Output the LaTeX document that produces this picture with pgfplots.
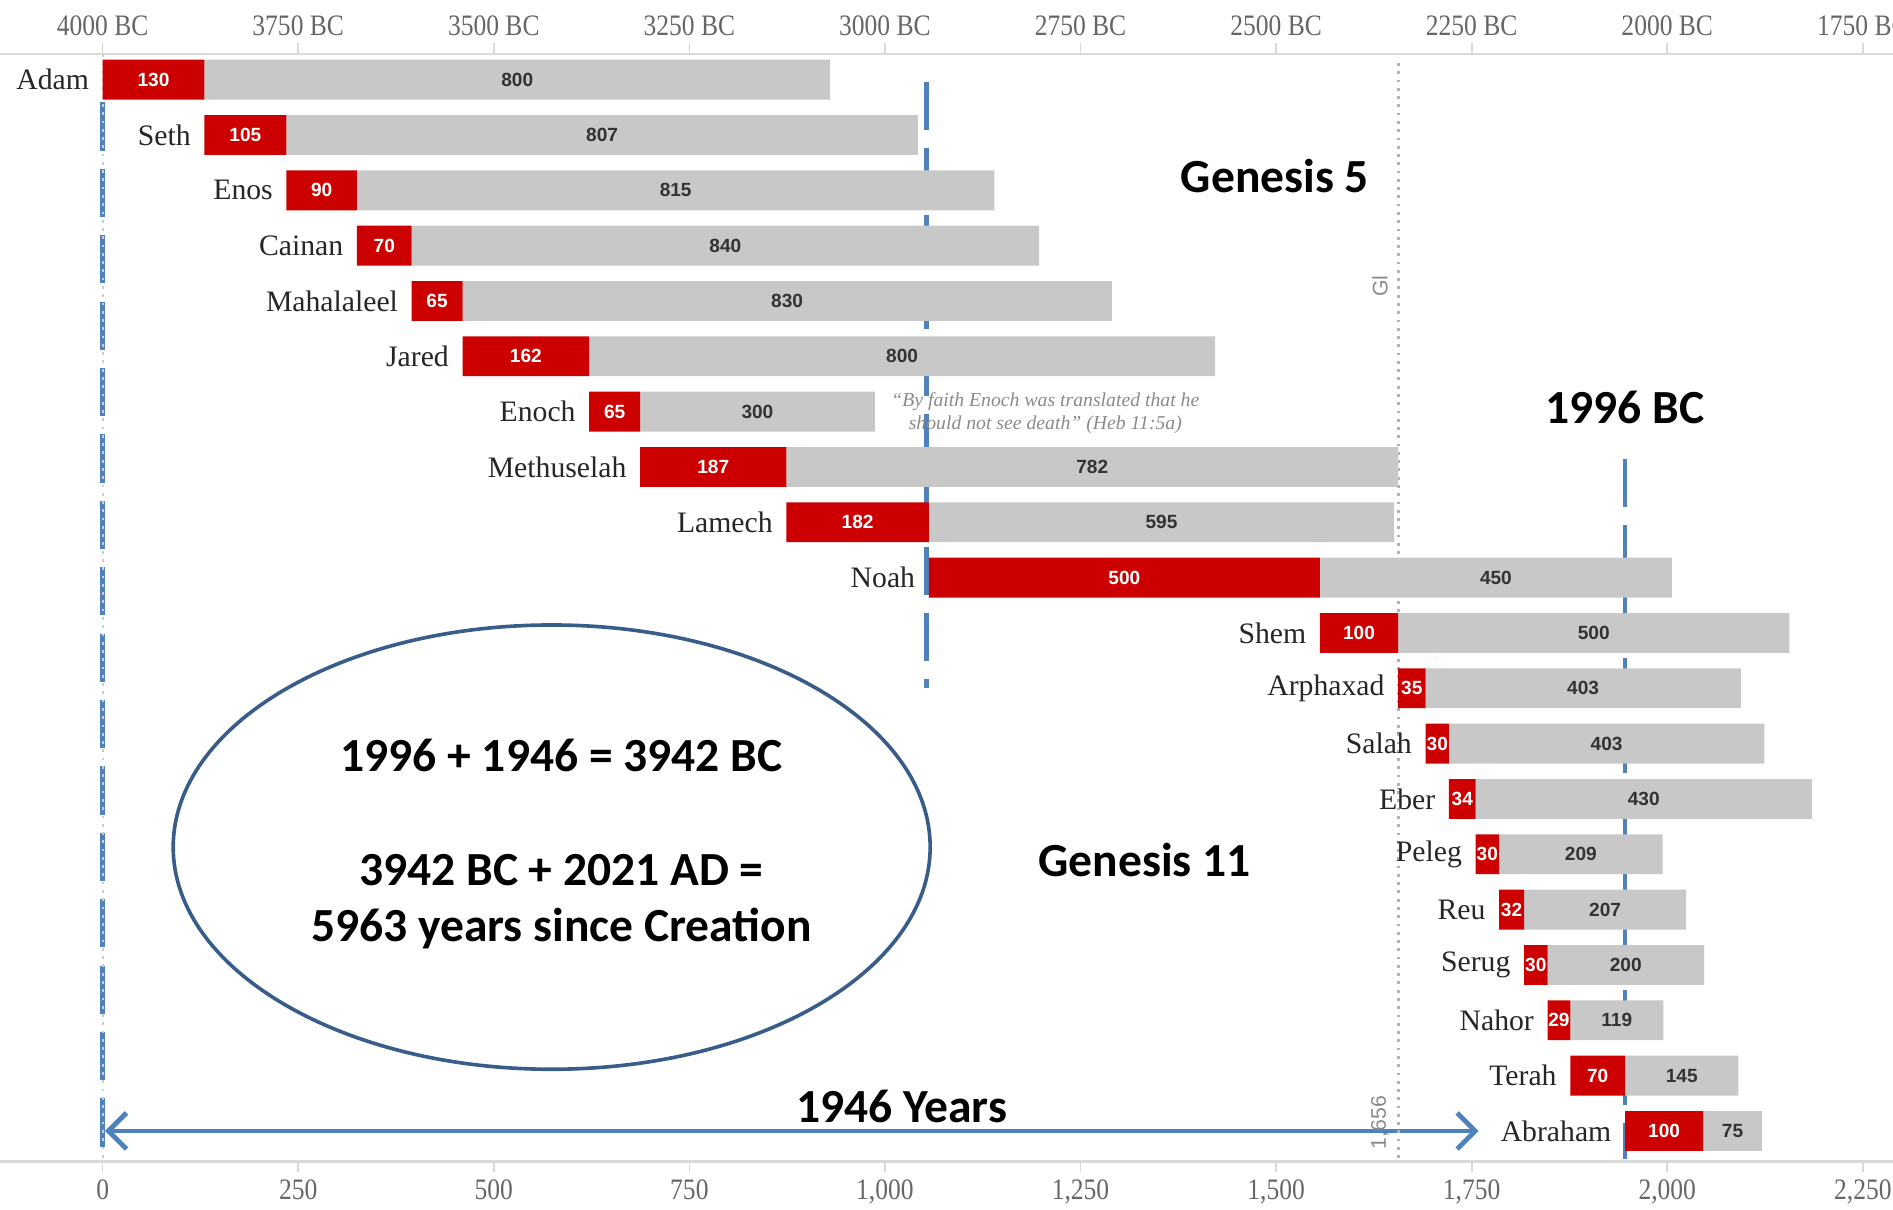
\documentclass[border=0pt]{standalone}
\usepackage{pgfplots}
\pgfplotsset{compat=1.18}
\usepackage{pgfplotstable}
\usepackage{fontspec}
\setmainfont{Liberation Serif}
\newfontfamily\sansf{Liberation Sans}
\newfontfamily\calib{Carlito}
\newfontfamily\tickf[FakeStretch=0.86]{Liberation Serif}
\usetikzlibrary{arrows.meta}
\definecolor{barred}{HTML}{CC0000}
\definecolor{bargray}{HTML}{C8C8C8}
\definecolor{lineblue}{HTML}{4F81BD}
\definecolor{ellblue}{HTML}{385D8A}
\definecolor{axgray}{HTML}{D9D9D9}
\definecolor{ticktext}{HTML}{666666}
\definecolor{reftext}{HTML}{8A8A8A}

% gray = drawn length of the bar, glabel = the number written on it
\pgfplotstableread{
name start red gray glabel
Adam 0 130 800 800
Seth 130 105 807 807
Enos 235 90 815 815
Cainan 325 70 802 840
Mahalaleel 395 65 830 830
Jared 460 162 800 800
Enoch 622 65 300 300
Methuselah 687 187 782 782
Lamech 874 182 595 595
Noah 1056 500 450 450
Shem 1556 100 500 500
Arphaxad 1656 35 403 403
Salah 1691 30 403 403
Eber 1721 34 430 430
Peleg 1755 30 209 209
Reu 1785 32 207 207
Serug 1817 30 200 200
Nahor 1847 29 119 119
Terah 1876 70 145 145
Abraham 1946 100 75 75
}\patriarchs

\newcommand{\bigtxt}[3]{%
  \node[text=black, font=\calib\bfseries\fontsize{22.4}{26}\selectfont, align=center] at (axis cs:#1,#2) {#3};
}

\begin{document}
\begin{tikzpicture}
\pgfplotsset{
  base/.style={
    scale only axis, width=31.36cm, height=18.34cm,
    at={(0,0.8cm)}, anchor=south west,
    xmin=-131.2, xmax=2288.6, ymin=-0.458, ymax=19.55, y dir=reverse,
    xtick={0,250,...,2250},
    hide y axis,
    axis line style={axgray, line width=1.1pt},
    tick style={axgray, line width=0.8pt},
    major tick length=0.18cm, tick align=outside,
    xticklabel style={font=\tickf\fontsize{14}{14}\selectfont, text=ticktext},
    /pgf/number format/assume math mode=true,
    clip=false,
  }
}
\begin{axis}[base, axis x line*=top,
  xticklabels={4000 BC,3750 BC,3500 BC,3250 BC,3000 BC,2750 BC,2500 BC,2250 BC,2000 BC,1750 BC}]
\addplot[draw=none, mark=none] coordinates {(0,0)};
\end{axis}

\begin{axis}[base, axis x line*=bottom, xbar stacked, bar width=0.66cm,
  /pgf/number format/1000 sep={,}]
% start offset (invisible) carrying the names
\addplot[draw=none, fill=none, nodes near coords, point meta=explicit symbolic,
  visualization depends on={\thisrow{start}\as\sv},
  every node near coord/.append style={anchor=east, inner sep=0pt,
    shift={(axis direction cs:0.5*\sv,0)}, xshift=-0.22cm,
    font=\fontsize{14}{14}\selectfont, text=black!85}]
  table[x=start, y expr=\coordindex, meta=name] {\patriarchs};
% age at son's birth
\addplot[fill=barred, draw=none, nodes near coords, point meta=explicit,
  every node near coord/.append style={anchor=center, inner sep=0pt,
    font=\sansf\bfseries\fontsize{9}{9}\selectfont, text=white}]
  table[x=red, y expr=\coordindex, meta=red] {\patriarchs};
% remaining years
\addplot[fill=bargray, draw=none, nodes near coords, point meta=explicit,
  every node near coord/.append style={anchor=center, inner sep=0pt,
    font=\sansf\bfseries\fontsize{9}{9}\selectfont, text=black!80}]
  table[x=gray, y expr=\coordindex, meta=glabel] {\patriarchs};

% name of the first row (its offset bar has zero length)
\node[anchor=east, inner sep=0pt, xshift=-0.22cm, font=\fontsize{14}{14}\selectfont, text=black!85] at (axis cs:0,0) {Adam};

% flood reference line
\draw[black!30, line width=1.3pt, dash pattern=on 1.3pt off 2.6pt] (axis cs:1656,-0.3) -- (axis cs:1656,19.55);
\draw[black!20, line width=1.0pt, dash pattern=on 1.3pt off 2.6pt] (axis cs:0,-0.458) -- (axis cs:0,19.55);
\node[rotate=90, text=reftext, font=\sansf\fontsize{10}{10}\selectfont, inner sep=0pt] at (axis cs:1632.7,3.73) {Gl};
\node[rotate=90, text=reftext, font=\sansf\fontsize{10}{10}\selectfont, inner sep=0pt] at (axis cs:1632.7,18.85) {1,656};

% quote
\node[text=reftext, font=\itshape\fontsize{9.3}{11}\selectfont, align=center, inner sep=0pt] at (axis cs:1205,6.03)
  {``By faith Enoch was translated that he\\ should not see death'' (Heb 11:5a)};

% blue dashed lines
\draw[lineblue, line width=0.08cm, dash pattern=on 0.8cm off 0.3cm] (axis cs:0,0.41) -- (axis cs:0,19.5);
\draw[lineblue, line width=0.08cm, dash pattern=on 0.8cm off 0.3cm] (axis cs:1053,0.04) -- (axis cs:1053,11.0);
\draw[lineblue, line width=0.08cm, dash pattern=on 0.8cm off 0.3cm] (axis cs:1946,6.85) -- (axis cs:1946,19.5);

% ellipse
\draw[ellblue, line width=0.06cm] (axis cs:574,13.87) ellipse [x radius=6.27cm, y radius=3.68cm];

% big texts
\bigtxt{1498.5}{1.745}{Genesis 5}
\bigtxt{1331.8}{14.11}{Genesis 11}
\bigtxt{1946}{5.93}{1996 BC}
\bigtxt{586.4}{12.22}{1996 + 1946 = 3942 BC}
\bigtxt{586.4}{14.29}{3942 BC + 2021 AD =}
\bigtxt{586.4}{15.34}{5963 years since Creation}
\bigtxt{1021.6}{18.56}{1946 Years}

% arrow
\draw[lineblue, line width=0.08cm, {Straight Barb[length=0.3cm,width=0.6cm]}-{Straight Barb[length=0.3cm,width=0.6cm]}]
  (axis cs:3,19.0) -- (axis cs:1759,19.0);
\end{axis}
\pgfresetboundingbox
\path (0,0) rectangle (31.36cm,20.04cm);
\end{tikzpicture}
\end{document}
